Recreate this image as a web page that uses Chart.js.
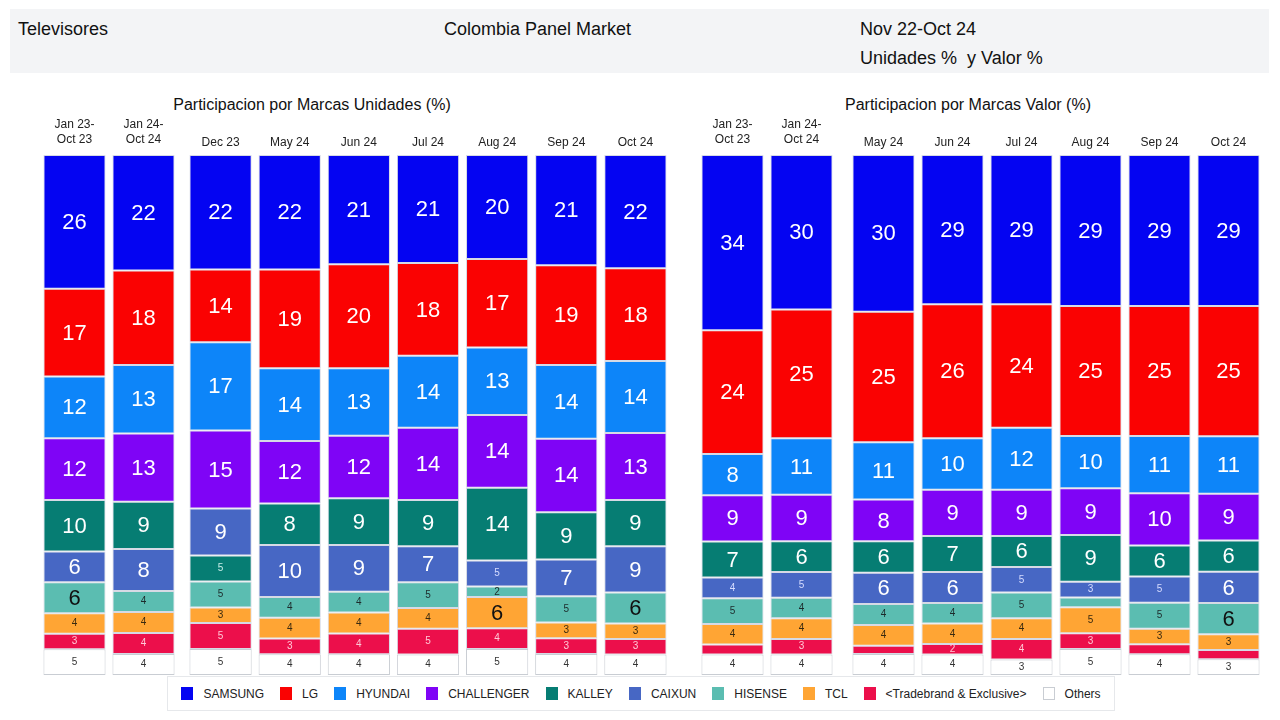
<!DOCTYPE html>
<html><head><meta charset="utf-8">
<script src="https://cdn.jsdelivr.net/npm/chart.js@4.4.1/dist/chart.umd.min.js"></script>
<style>
html,body{margin:0;padding:0;background:#fff;width:1280px;height:720px;overflow:hidden;font-family:"Liberation Sans",Arial,sans-serif;color:#111}
#hdr{position:absolute;left:10px;top:9px;width:1259px;height:64px;background:#f3f4f6}
.t{position:absolute;white-space:pre;font-size:18px;line-height:20px;color:#111}
.ptitle{position:absolute;font-size:16px;line-height:18px;white-space:nowrap;transform:translateX(-50%);color:#111}
.box{position:absolute}
#legend{position:absolute;left:167px;top:676px;width:948px;height:35px;border:1px solid #e6e8eb;box-sizing:border-box;display:flex;align-items:center;justify-content:center;font-size:12px;color:#222;white-space:nowrap}
.li{display:flex;align-items:center;margin:0 8px;white-space:nowrap}
.sw{width:12px;height:13px;margin-right:10px;box-sizing:border-box}
</style>
</head><body>
<div id="hdr"></div>
<div class="t" style="left:18px;top:19px">Televisores</div>
<div class="t" style="left:444px;top:19px">Colombia Panel Market</div>
<div class="t" style="left:860px;top:19px">Nov 22-Oct 24</div>
<div class="t" style="left:860px;top:48px">Unidades %  y Valor %</div>
<div class="ptitle" style="left:312px;top:96px">Participacion por Marcas Unidades (%)</div>
<div class="ptitle" style="left:968px;top:96px">Participacion por Marcas Valor (%)</div>

<div class="box" style="left:40px;top:105px;width:138px;height:570px"><canvas id="cA"></canvas></div>
<div class="box" style="left:186px;top:105px;width:484px;height:570px"><canvas id="cB"></canvas></div>
<div class="box" style="left:698px;top:105px;width:138px;height:570px"><canvas id="cC"></canvas></div>
<div class="box" style="left:849px;top:105px;width:414px;height:570px"><canvas id="cD"></canvas></div>
<div id="legend"></div>

<script>
// ---------- DATA ----------
const unitCategories = [['Jan 23-','Oct 23'],['Jan 24-','Oct 24'],'Dec 23','May 24','Jun 24','Jul 24','Aug 24','Sep 24','Oct 24'];
const valueCategories = [['Jan 23-','Oct 23'],['Jan 24-','Oct 24'],'May 24','Jun 24','Jul 24','Aug 24','Sep 24','Oct 24'];
const ytdCount = 2; // the first two periods are drawn as a separate group

const brandNames = ['SAMSUNG','LG','HYUNDAI','CHALLENGER','KALLEY','CAIXUN','HISENSE','TCL','<Tradebrand & Exclusive>','Others'];

// Units share (%)
const samsungU    = [26,22,22,22,21,21,20,21,22];
const lgU         = [17,18,14,19,20,18,17,19,18];
const hyundaiU    = [12,13,17,14,13,14,13,14,14];
const challengerU = [12,13,15,12,12,14,14,14,13];
const kalleyU     = [10, 9, 5, 8, 9, 9,14, 9, 9];
const caixunU     = [ 6, 8, 9,10, 9, 7, 5, 7, 9];
const hisenseU    = [ 6, 4, 5, 4, 4, 5, 2, 5, 6];
const tclU        = [ 4, 4, 3, 4, 4, 4, 6, 3, 3];
const tradeU      = [ 3, 4, 5, 3, 4, 5, 4, 3, 3];
const othersU     = [ 5, 4, 5, 4, 4, 4, 5, 4, 4];
// periods where KALLEY sits below CAIXUN in the stack
const kalleyBelowCaixunU = ['Dec 23'];

// Value share (%)
const samsungV    = [34,30,30,29,29,29,29,29];
const lgV         = [24,25,25,26,24,25,25,25];
const hyundaiV    = [ 8,11,11,10,12,10,11,11];
const challengerV = [ 9, 9, 8, 9, 9, 9,10, 9];
const kalleyV     = [ 7, 6, 6, 7, 6, 9, 6, 6];
const caixunV     = [ 4, 5, 6, 6, 5, 3, 5, 6];
const hisenseV    = [ 5, 4, 4, 4, 5,1.9, 5, 6];
const tclV        = [ 4, 4, 4, 4, 4, 5, 3, 3];
const tradeV      = [1.9, 3,1.6, 2, 4, 3,1.9,1.8];
const othersV     = [ 4, 4, 4, 4, 3, 5, 4, 3];
const kalleyBelowCaixunV = [];

// ---------- STYLE ----------
const FONT = '"Liberation Sans Narrow","Liberation Sans",Arial,sans-serif';
const colors = {
  SAMSUNG:'#0404f2', LG:'#fa0202', HYUNDAI:'#0d85f9', CHALLENGER:'#7f04f6',
  KALLEY:'#067d73', CAIXUN:'#4767c4', HISENSE:'#5bbdb1', TCL:'#ffa534',
  '<Tradebrand & Exclusive>':'#ec0f4b', Others:'#ffffff'
};
const bigText = {SAMSUNG:'#fff',LG:'#fff',HYUNDAI:'#fff',CHALLENGER:'#fff',KALLEY:'#fff',CAIXUN:'#fff',HISENSE:'#111',TCL:'#111','<Tradebrand & Exclusive>':'#fff',Others:'#222'};
const smallText = {SAMSUNG:'#fff',LG:'#fff',HYUNDAI:'#fff',CHALLENGER:'#fff',KALLEY:'#c8eee8',CAIXUN:'#d6dcff',HISENSE:'#1d2b2b',TCL:'#3a2a10','<Tradebrand & Exclusive>':'#ffc8d6',Others:'#333'};

function labelText(c){ return Array.isArray(c) ? c.join(' ') : c; }

function buildSets(cats, series, kalleyLowList, from, to){
  const idx = []; for(let i=from;i<to;i++) idx.push(i);
  const totals = idx.map(i => series.reduce((s,a)=>s+a[i],0));
  const mk = (name, vals, cond) => {
    const raw = idx.map(i => cond(i) ? vals[i] : null);
    return {
      label:name, raw,
      data: raw.map((v,k)=> v==null ? null : v*100/totals[k]),
      backgroundColor: colors[name],
      borderColor: name==='Others' ? '#c9cdd3' : 'rgba(200,206,220,0.75)',
      borderWidth: 1, borderSkipped:false,
      bigColor: bigText[name], smallColor: smallText[name]
    };
  };
  const low = i => kalleyLowList.includes(labelText(cats[i]));
  const all = () => true;
  const [sam,lg,hy,ch,ka,cx,hi,tc,tr,ot] = series;
  // bottom to top
  return [
    mk('Others',ot,all), mk('<Tradebrand & Exclusive>',tr,all), mk('TCL',tc,all), mk('HISENSE',hi,all),
    mk('KALLEY',ka,low), mk('CAIXUN',cx,all), mk('KALLEY',ka,i=>!low(i)),
    mk('CHALLENGER',ch,all), mk('HYUNDAI',hy,all), mk('LG',lg,all), mk('SAMSUNG',sam,all)
  ];
}

const segLabels = {
  id:'segLabels',
  afterDatasetsDraw(chart){
    const ctx = chart.ctx;
    ctx.save();
    ctx.textAlign='center'; ctx.textBaseline='middle';
    chart.data.datasets.forEach((ds,di)=>{
      const meta = chart.getDatasetMeta(di);
      meta.data.forEach((el,i)=>{
        const v = ds.raw[i];
        if(v==null || v<2) return;
        const big = v>=6;
        ctx.font = big ? '22px '+FONT : '10px '+FONT;
        ctx.fillStyle = big ? ds.bigColor : ds.smallColor;
        ctx.fillText(String(Math.round(v)), el.x, (el.y+el.base)/2 + (big?1:0));
      });
    });
    ctx.restore();
  }
};

function makeChart(id, cats, datasets, pad){
  return new Chart(document.getElementById(id), {
    type:'bar',
    data:{labels:cats, datasets},
    options:{
      responsive:true, maintainAspectRatio:false, animation:false,
      layout:{padding:0},
      datasets:{bar:{categoryPercentage:1, barPercentage:0.9}},
      plugins:{legend:{display:false}, tooltip:{enabled:false}, title:{display:false}},
      scales:{
        x:{stacked:true, position:'top', offset:true,
           grid:{display:false, drawTicks:false}, border:{display:false},
           ticks:{padding:pad, color:'#222', autoSkip:false, maxRotation:0,
                  font:{family:'"Liberation Sans",Arial,sans-serif', size:12, lineHeight:1.25}},
           afterFit(s){ s.height = 50; }},
        y:{stacked:true, display:false, min:0, max:100}
      }
    },
    plugins:[segLabels]
  });
}

const unitsSeries = [samsungU,lgU,hyundaiU,challengerU,kalleyU,caixunU,hisenseU,tclU,tradeU,othersU];
const valueSeries = [samsungV,lgV,hyundaiV,challengerV,kalleyV,caixunV,hisenseV,tclV,tradeV,othersV];

makeChart('cA', unitCategories.slice(0,ytdCount), buildSets(unitCategories, unitsSeries, kalleyBelowCaixunU, 0, ytdCount), 7.5);
makeChart('cB', unitCategories.slice(ytdCount), buildSets(unitCategories, unitsSeries, kalleyBelowCaixunU, ytdCount, unitCategories.length), 5);
makeChart('cC', valueCategories.slice(0,ytdCount), buildSets(valueCategories, valueSeries, kalleyBelowCaixunV, 0, ytdCount), 7.5);
makeChart('cD', valueCategories.slice(ytdCount), buildSets(valueCategories, valueSeries, kalleyBelowCaixunV, ytdCount, valueCategories.length), 5);

// legend
const lg = document.getElementById('legend');
brandNames.forEach(n=>{
  const it = document.createElement('div'); it.className='li';
  const sw = document.createElement('div'); sw.className='sw';
  sw.style.background = colors[n];
  if(n==='Others') sw.style.border='1px solid #c9cdd3';
  const tx = document.createElement('span'); tx.textContent = n;
  it.appendChild(sw); it.appendChild(tx); lg.appendChild(it);
});
</script>
</body></html>
